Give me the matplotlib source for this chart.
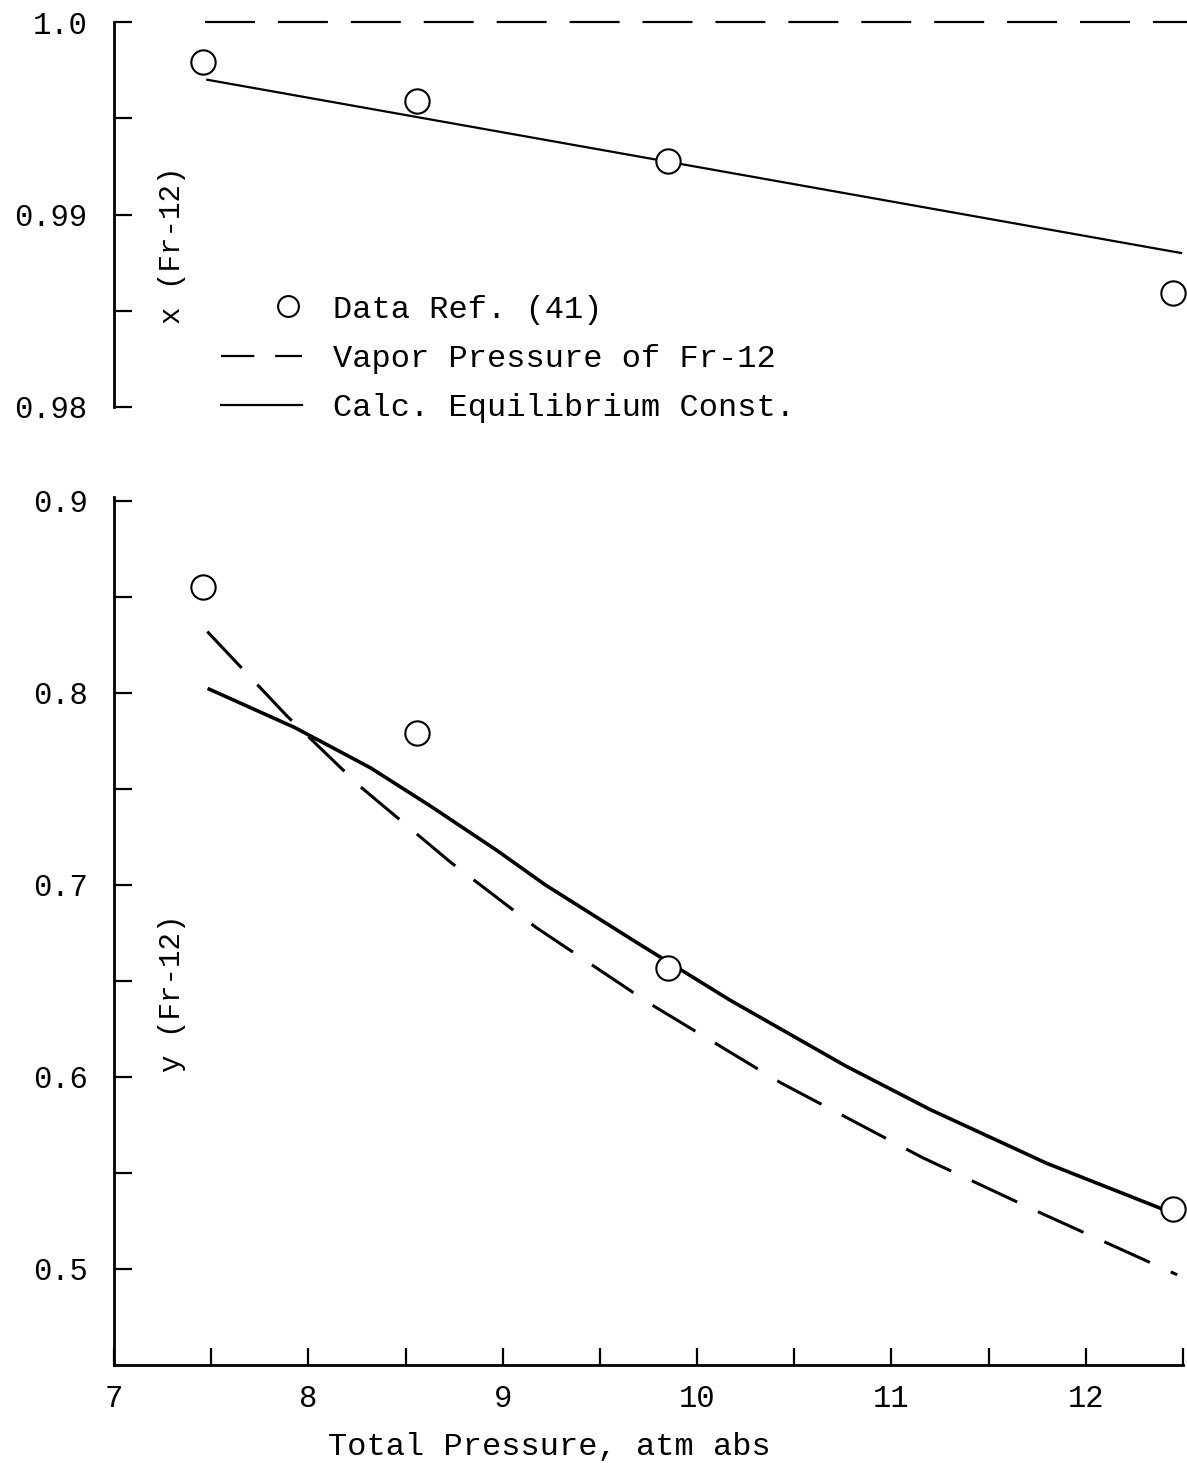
import numpy as np
import matplotlib
matplotlib.use("Agg")
import matplotlib.pyplot as plt
from matplotlib.lines import Line2D
from matplotlib.legend_handler import HandlerLine2D

plt.rcParams['font.family'] = ['Liberation Mono', 'DejaVu Sans Mono']
plt.rcParams['lines.scale_dashes'] = False

# ---------------- data ----------------
# measured points (Data Ref. (41))
p_data = [7.46, 8.56, 9.85, 12.45]
x_data = [0.9979, 0.9959, 0.9928, 0.9859]
y_data = [0.855, 0.779, 0.657, 0.531]

# top panel: calc. equilibrium const. line and vapor pressure line
p_x_calc = [7.48, 12.49]
x_calc = [0.9970, 0.9880]
p_x_vp = [7.47, 12.53]
x_vp = [1.0, 1.0]

# bottom panel curves
p_y_calc = [7.49, 7.93, 8.32, 8.63, 8.97, 9.22, 9.69, 10.17, 10.76, 11.20,
            11.80, 12.45]
y_calc = [0.802, 0.782, 0.761, 0.741, 0.718, 0.700, 0.670, 0.640, 0.606,
          0.583, 0.555, 0.529]
p_y_vp = [7.48, 7.89, 8.27, 8.73, 9.17, 9.76, 10.43, 11.16, 11.75, 12.47]
y_vp = [0.832, 0.788, 0.751, 0.712, 0.678, 0.638, 0.597, 0.558, 0.530, 0.497]

x_major = [7, 8, 9, 10, 11, 12]
x_minor = [7.5, 8.5, 9.5, 10.5, 11.5, 12.5]
top_major = [0.98, 0.99, 1.0]
top_major_labels = ['0.98', '0.99', '1.0']
top_minor = [0.985, 0.995]
bot_major = [0.5, 0.6, 0.7, 0.8, 0.9]
bot_major_labels = ['0.5', '0.6', '0.7', '0.8', '0.9']
bot_minor = [0.55, 0.65, 0.75, 0.85]

legend_labels = ['Data Ref. (41)', 'Vapor Pressure of Fr-12', 'Calc. Equilibrium Const.']

# ---------------- figure ----------------
W, H = 1187, 1463
fig = plt.figure(figsize=(W / 100, H / 100), dpi=100)
L = 114 / W
Wd = (1183 - 114) / W
ax1 = fig.add_axes([L, 1 - 407 / H, Wd, (407 - 22) / H])
ax2 = fig.add_axes([L, 1 - 1365 / H, Wd, (1365 - 501) / H])

FS = 22
FS2 = 23
DASH = (36, 16.5)
MS = 17.5

for ax in (ax1, ax2):
    ax.set_xlim(7, 12.5)
    for s in ('top', 'right'):
        ax.spines[s].set_visible(False)
    ax.spines['left'].set_linewidth(2.0)
    ax.spines['bottom'].set_linewidth(2.0)
    ax.tick_params(axis='both', which='both', direction='in', width=1.6,
                   labelsize=FS)
    ax.tick_params(axis='y', which='both', length=13, pad=19)

# top panel
ax1.set_ylim(0.98, 1.0)
ax1.spines['bottom'].set_visible(False)
ax1.set_xticks([])
ax1.set_yticks(top_major)
ax1.set_yticklabels(top_major_labels)
ax1.set_yticks(top_minor, minor=True)
ax1.plot(p_x_vp, x_vp, color='black', lw=1.6, dashes=DASH, clip_on=False)
ax1.plot(p_x_calc, x_calc, color='black', lw=1.6, clip_on=False)
ax1.plot(p_data, x_data, linestyle='none', marker='o', ms=MS, mfc='white',
         mec='black', mew=1.5, clip_on=False, zorder=5)
ax1.text(0.0546, 0.421, 'x (Fr-12)', rotation=90, transform=ax1.transAxes,
         ha='center', va='center', fontsize=FS - 1)


# legend: marker drawn towards the right end of its handle
class RightMarkerHandler(HandlerLine2D):
    def create_artists(self, legend, orig_handle, xdescent, ydescent,
                       width, height, fontsize, trans):
        y = (height - ydescent) / 2
        m = Line2D([-xdescent + 0.82 * width], [y])
        self.update_prop(m, orig_handle, legend)
        m.set_linestyle('none')
        m.set_transform(trans)
        return [m]


h_data = Line2D([], [], linestyle='none', marker='o', ms=15, mfc='white',
                mec='black', mew=1.5)
h_vp = Line2D([], [], color='black', lw=1.6, dashes=(24, 15))
h_calc = Line2D([], [], color='black', lw=1.6)
ax1.legend([h_data, h_vp, h_calc], legend_labels, loc='upper left',
           bbox_to_anchor=(0.1, 0.292), frameon=False, fontsize=FS2,
           handlelength=2.55, handletextpad=0.95, labelspacing=0.6,
           borderpad=0, borderaxespad=0,
           handler_map={h_data: RightMarkerHandler()})

# bottom panel
ax2.set_ylim(0.45, 0.9)
ax2.spines['left'].set_bounds(0.45, 0.902)
ax2.set_yticks(bot_major)
ax2.set_yticklabels(bot_major_labels)
ax2.set_yticks(bot_minor, minor=True)
ax2.set_xticks(x_major)
ax2.set_xticklabels([str(v) for v in x_major])
ax2.set_xticks(x_minor, minor=True)
ax2.tick_params(axis='x', which='both', length=12, pad=14)
ax2.plot(p_y_vp, y_vp, color='black', lw=2.2, dashes=DASH, clip_on=False,
         solid_joinstyle='round', dash_joinstyle='round')
ax2.plot(p_y_calc, y_calc, color='black', lw=2.6, clip_on=False,
         solid_joinstyle='round')
ax2.plot(p_data, y_data, linestyle='none', marker='o', ms=MS, mfc='white',
         mec='black', mew=1.5, clip_on=False, zorder=5)
ax2.text(0.0546, 0.4306, 'y (Fr-12)', rotation=90, transform=ax2.transAxes,
         ha='center', va='center', fontsize=FS - 1)
ax2.set_xlabel('Total Pressure, atm abs', fontsize=FS2, va='top')
ax2.xaxis.set_label_coords(0.4075, -0.078)

fig.savefig('out.png', dpi=100)
